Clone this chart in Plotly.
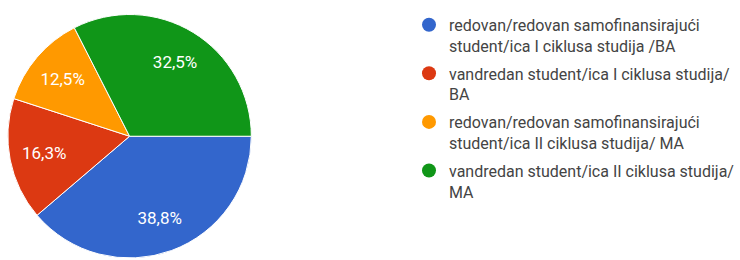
import plotly.graph_objects as go

labels = [
    "redovan/redovan samofinansirajući<br>student/ica I ciklusa studija /BA",
    "vandredan student/ica I ciklusa studija/<br>BA",
    "redovan/redovan samofinansirajući<br>student/ica II ciklusa studija/ MA",
    "vandredan student/ica II ciklusa studija/<br>MA",
]
counts = [31, 13, 10, 26]
colors = ["#3366cc", "#dc3912", "#ff9900", "#109618"]
# which slice labels sit further out (on the ring) vs. in the full pie
ring_label = [True, True, False, True]

fmt = "%{percent:.1%}"
dom = dict(x=[0.0110, 0.3520], y=[0.0, 0.952])
fig = go.Figure()
# filled pie with slice borders
fig.add_trace(go.Pie(
    labels=labels, values=counts, sort=False, direction="clockwise", rotation=90,
    marker=dict(colors=colors, line=dict(color="white", width=1)),
    texttemplate=["" if r else fmt for r in ring_label], textposition="inside",
    insidetextfont=dict(color="white", size=17, family="Roboto"),
    insidetextorientation="horizontal",
    showlegend=False, hoverinfo="skip", domain=dom,
))
# transparent ring on top carrying the percentage labels further out
fig.add_trace(go.Pie(
    labels=labels, values=counts, sort=False, direction="clockwise", rotation=90,
    hole=0.43,
    marker=dict(colors=["rgba(0,0,0,0)"] * len(counts), line=dict(width=0)),
    texttemplate=[fmt if r else "" for r in ring_label], textposition="inside",
    insidetextfont=dict(color="white", size=17, family="Roboto"),
    insidetextorientation="horizontal",
    showlegend=False, hoverinfo="skip", domain=dom,
))
for i, (lab, col) in enumerate(zip(labels, colors)):
    fig.add_trace(go.Scatter(
        x=[None], y=[None], mode="markers", name=lab, legendgroup=f"g{i}",
        marker=dict(color=col, size=14, symbol="circle"),
    ))

fig.update_layout(
    width=740, height=260, margin=dict(l=0, r=0, t=0, b=0),
    paper_bgcolor="white", plot_bgcolor="white",
    separators=", ",
    font=dict(family="Roboto", color="#444444"),
    xaxis=dict(visible=False), yaxis=dict(visible=False),
    legend=dict(x=0.573, y=0.97, xanchor="left", yanchor="top",
                valign="top", tracegroupgap=4,
                font=dict(size=16, color="#444444", family="Roboto"),
                itemclick=False, itemdoubleclick=False),
)
fig.write_html("out.html", config={"displayModeBar": False},
               post_script="document.body.style.margin='0';")
